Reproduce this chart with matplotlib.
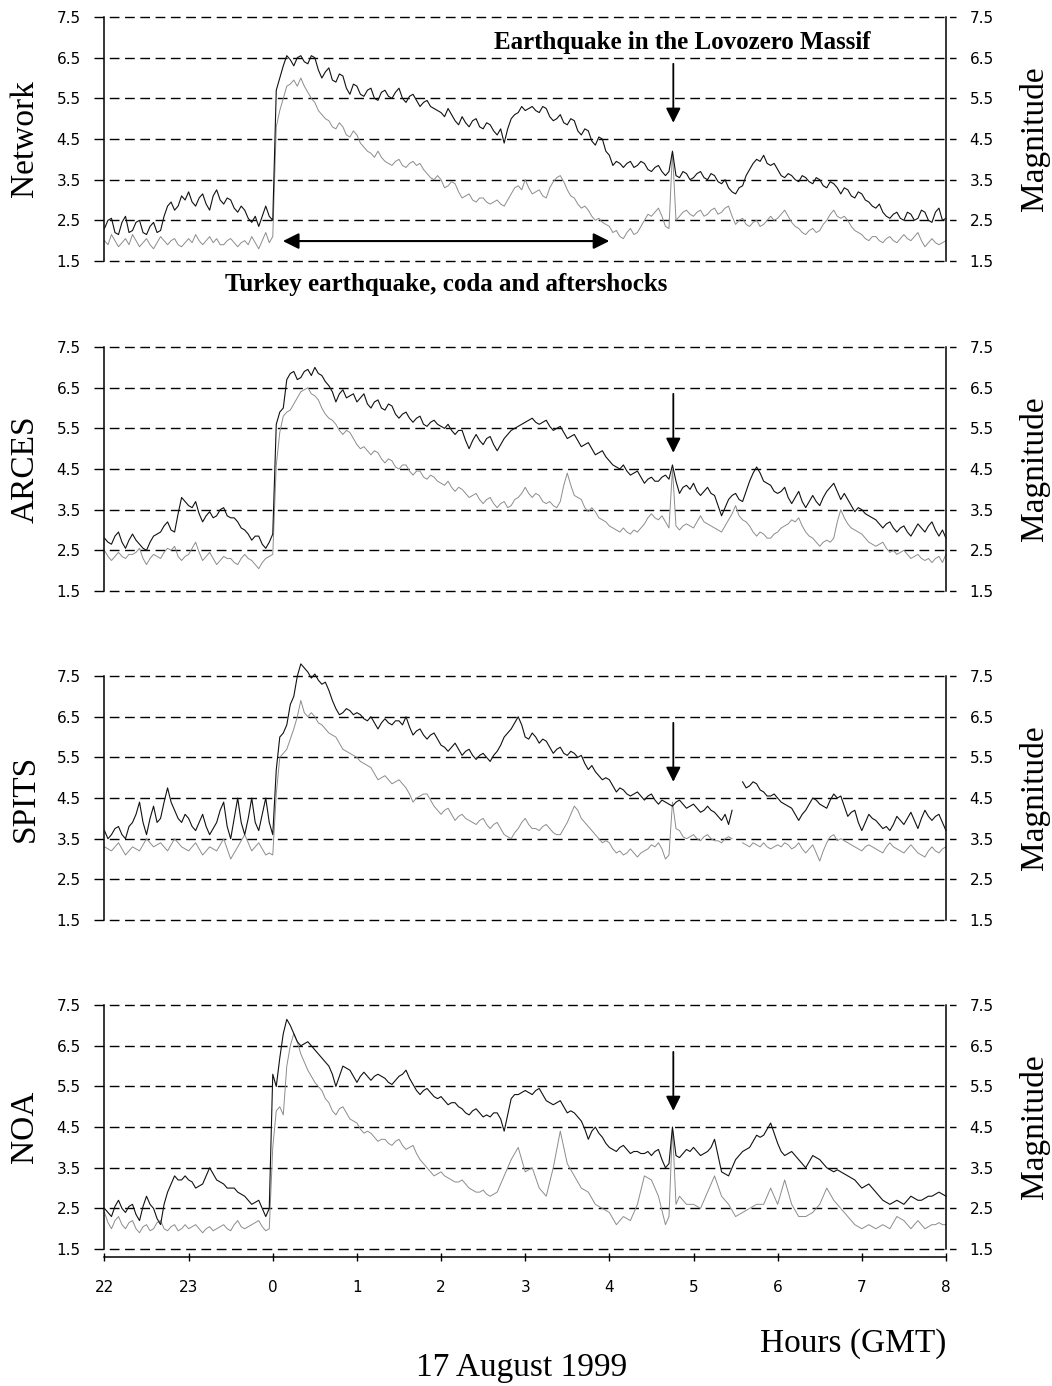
import numpy as np
import matplotlib
matplotlib.use("Agg")
import matplotlib.pyplot as plt

# 2.5-minute samples from 22:00 (16 Aug) to 08:00 (17 Aug), hours relative to midnight
TIME_H = np.arange(241) / 24.0 - 2.0

HOUR_TICKS = [-2, -1, 0, 1, 2, 3, 4, 5, 6, 7, 8]
HOUR_LABELS = ["22", "23", "0", "1", "2", "3", "4", "5", "6", "7", "8"]
MAG_TICKS = [1.5, 2.5, 3.5, 4.5, 5.5, 6.5, 7.5]

STATIONS = ["Network", "ARCES", "SPITS", "NOA"]
nan = np.nan

# upper (black) and lower (grey) magnitude traces, one row per hour
NET_UP = [
    2.3, 2.5, 2.55, 2.2, 2.15, 2.45, 2.6, 2.2, 2.25, 2.45, 2.5, 2.2, 2.15, 2.35, 2.45, 2.2, 2.25, 2.6, 2.85, 2.95, 2.75, 2.85, 3.1, 3.0,
    3.2, 2.95, 2.85, 3.05, 3.15, 2.9, 2.75, 3.1, 3.25, 3.0, 2.9, 3.05, 3.0, 2.8, 2.7, 2.85, 2.75, 2.55, 2.45, 2.6, 2.35, 2.6, 2.85, 2.6,
    2.5, 5.7, 6.0, 6.3, 6.55, 6.45, 6.3, 6.5, 6.55, 6.4, 6.35, 6.55, 6.5, 6.2, 6.0, 6.15, 6.25, 5.95, 5.9, 6.1, 6.05, 5.75, 5.6, 5.85,
    5.8, 5.6, 5.55, 5.7, 5.75, 5.5, 5.45, 5.65, 5.7, 5.55, 5.5, 5.65, 5.75, 5.5, 5.4, 5.55, 5.6, 5.45, 5.3, 5.4, 5.45, 5.3, 5.25, 5.2,
    5.15, 5.05, 5.25, 5.1, 4.95, 4.85, 5.05, 4.9, 4.8, 4.95, 5.0, 4.8, 4.75, 4.9, 4.85, 4.7, 4.6, 4.75, 4.4, 4.75, 5.0, 5.1, 5.15, 5.3,
    5.2, 5.25, 5.3, 5.2, 5.15, 5.3, 5.25, 5.05, 4.95, 5.0, 5.1, 4.9, 4.85, 5.0, 4.95, 4.7, 4.6, 4.75, 4.7, 4.45, 4.35, 4.55, 4.5, 4.2,
    4.1, 3.85, 3.95, 3.9, 3.8, 3.9, 3.95, 3.8, 3.85, 3.95, 3.9, 3.75, 3.7, 3.8, 3.85, 3.7, 3.6, 3.7, 4.2, 3.6, 3.55, 3.7, 3.65, 3.5,
    3.55, 3.65, 3.7, 3.55, 3.5, 3.65, 3.6, 3.45, 3.4, 3.5, 3.3, 3.2, 3.15, 3.3, 3.35, 3.6, 3.75, 3.9, 4.0, 3.95, 4.1, 3.9, 3.85, 3.9,
    3.75, 3.6, 3.55, 3.65, 3.6, 3.5, 3.45, 3.6, 3.55, 3.45, 3.4, 3.55, 3.5, 3.35, 3.3, 3.45, 3.4, 3.3, 3.15, 3.3, 3.25, 3.1, 3.05, 3.2,
    3.15, 3.0, 2.95, 2.85, 2.8, 2.9, 2.7, 2.6, 2.55, 2.65, 2.7, 2.55, 2.5, 2.7, 2.65, 2.5, 2.55, 2.75, 2.7, 2.5, 2.45, 2.7, 2.8, 2.5, 2.55,
]
NET_LO = [
    2.0, 1.9, 2.15, 2.0, 1.85, 1.95, 2.05, 1.9, 2.15, 2.0, 1.85, 1.95, 2.05, 1.9, 1.8, 1.95, 2.1, 2.0, 1.9, 2.0, 2.05, 1.9, 1.85, 1.95,
    2.05, 1.95, 2.15, 2.0, 1.9, 2.0, 2.1, 1.95, 2.05, 1.9, 1.9, 2.0, 2.05, 1.95, 1.85, 1.95, 2.0, 1.9, 2.1, 1.95, 1.8, 2.0, 2.2, 1.95,
    2.1, 4.8, 5.2, 5.5, 5.8, 5.85, 5.95, 5.8, 6.0, 5.8, 5.65, 5.5, 5.4, 5.2, 5.1, 5.0, 4.95, 4.8, 4.75, 4.9, 4.8, 4.6, 4.55, 4.7,
    4.6, 4.4, 4.3, 4.2, 4.15, 4.05, 4.2, 4.05, 3.95, 3.9, 3.85, 3.95, 4.0, 3.85, 3.8, 3.9, 3.95, 3.85, 3.9, 3.75, 3.65, 3.55, 3.5, 3.6,
    3.5, 3.3, 3.35, 3.45, 3.4, 3.2, 3.05, 3.1, 3.15, 3.0, 2.95, 3.05, 3.05, 2.95, 2.9, 2.95, 3.0, 2.9, 2.85, 3.0, 3.15, 3.3, 3.35, 3.25,
    3.5, 3.3, 3.15, 3.2, 3.25, 3.1, 3.05, 3.3, 3.45, 3.55, 3.6, 3.45, 3.25, 3.1, 3.05, 2.9, 2.8, 2.85, 2.75, 2.6, 2.5, 2.55, 2.45, 2.4,
    2.35, 2.2, 2.25, 2.1, 2.05, 2.2, 2.3, 2.15, 2.2, 2.35, 2.5, 2.65, 2.6, 2.7, 2.8, 2.6, 2.35, 2.3, 4.2, 2.5, 2.6, 2.7, 2.75, 2.65,
    2.6, 2.7, 2.75, 2.6, 2.65, 2.75, 2.8, 2.65, 2.7, 2.8, 2.85, 2.6, 2.4, 2.5, 2.55, 2.4, 2.35, 2.45, 2.5, 2.35, 2.4, 2.5, 2.6, 2.5,
    2.55, 2.65, 2.75, 2.6, 2.45, 2.35, 2.3, 2.2, 2.15, 2.25, 2.3, 2.2, 2.25, 2.4, 2.5, 2.65, 2.75, 2.6, 2.55, 2.6, 2.5, 2.35, 2.25, 2.2,
    2.15, 2.05, 2.0, 2.1, 2.1, 2.0, 1.95, 2.05, 2.1, 2.0, 1.95, 2.05, 2.15, 2.05, 2.0, 2.1, 2.2, 2.0, 1.85, 1.95, 2.05, 1.95, 1.9, 1.95, 2.0,
]
ARC_UP = [
    2.8, 2.7, 2.65, 2.85, 2.95, 2.7, 2.55, 2.75, 2.9, 2.75, 2.65, 2.55, 2.5, 2.7, 2.85, 2.9, 2.95, 3.1, 3.2, 3.0, 2.95, 3.4, 3.8, 3.7,
    3.6, 3.55, 3.7, 3.4, 3.2, 3.35, 3.45, 3.3, 3.35, 3.5, 3.55, 3.35, 3.3, 3.3, 3.2, 3.05, 3.0, 2.9, 2.75, 2.85, 2.85, 2.65, 2.55, 2.7,
    2.9, 5.6, 5.9, 6.0, 6.7, 6.85, 6.9, 6.7, 6.75, 6.9, 6.95, 6.8, 7.0, 6.85, 6.8, 6.65, 6.55, 6.4, 6.15, 6.35, 6.45, 6.25, 6.3, 6.35,
    6.15, 6.25, 6.35, 6.1, 6.0, 6.15, 6.2, 6.0, 5.95, 6.1, 6.05, 5.85, 5.75, 5.85, 5.9, 5.75, 5.65, 5.75, 5.8, 5.6, 5.55, 5.65, 5.7, 5.6,
    5.55, 5.5, 5.6, 5.45, 5.35, 5.45, 5.45, 5.2, 5.0, 5.2, 5.35, 5.2, 5.1, 5.25, 5.3, 5.1, 4.95, 5.1, 5.25, 5.35, 5.45, 5.5, 5.55, 5.6,
    5.65, 5.7, 5.75, 5.65, 5.6, 5.65, 5.7, 5.55, 5.45, 5.5, 5.55, 5.4, 5.25, 5.3, 5.35, 5.2, 5.05, 5.1, 5.15, 5.0, 4.85, 4.9, 4.95, 4.8,
    4.7, 4.6, 4.55, 4.5, 4.6, 4.45, 4.35, 4.4, 4.45, 4.3, 4.15, 4.25, 4.3, 4.2, 4.2, 4.3, 4.35, 4.25, 4.6, 4.2, 3.9, 4.05, 4.1, 4.0,
    4.15, 3.95, 3.85, 3.95, 4.05, 3.9, 3.85, 3.6, 3.35, 3.55, 3.75, 3.85, 3.9, 3.75, 3.7, 3.95, 4.2, 4.4, 4.55, 4.4, 4.2, 4.15, 4.1, 3.95,
    3.9, 3.95, 4.05, 3.8, 3.65, 3.8, 3.95, 3.7, 3.55, 3.7, 3.85, 3.7, 3.6, 3.8, 3.95, 4.05, 4.15, 3.95, 3.75, 3.9, 3.75, 3.6, 3.45, 3.55,
    3.5, 3.4, 3.35, 3.3, 3.25, 3.15, 3.05, 3.15, 3.2, 3.05, 2.95, 3.05, 3.1, 2.95, 2.85, 3.0, 3.15, 3.05, 2.95, 3.1, 3.2, 3.0, 2.85, 3.0, 2.8,
]
ARC_LO = [
    2.5, 2.35, 2.25, 2.35, 2.45, 2.35, 2.3, 2.4, 2.4, 2.45, 2.55, 2.3, 2.15, 2.3, 2.4, 2.35, 2.3, 2.45, 2.55, 2.5, 2.6, 2.35, 2.25, 2.35,
    2.4, 2.55, 2.7, 2.45, 2.25, 2.35, 2.45, 2.3, 2.15, 2.25, 2.35, 2.3, 2.3, 2.2, 2.15, 2.3, 2.4, 2.3, 2.25, 2.15, 2.05, 2.2, 2.3, 2.35,
    2.4, 4.6, 5.4, 5.8, 5.9, 5.95, 6.1, 6.25, 6.4, 6.45, 6.5, 6.35, 6.3, 6.2, 6.0, 5.85, 5.75, 5.7, 5.6, 5.45, 5.35, 5.45, 5.4, 5.25,
    5.1, 5.0, 5.05, 4.95, 4.85, 4.95, 4.9, 4.75, 4.65, 4.75, 4.7, 4.55, 4.5, 4.6, 4.6, 4.45, 4.35, 4.45, 4.45, 4.3, 4.25, 4.35, 4.3, 4.2,
    4.15, 4.1, 4.2, 4.05, 3.95, 4.05, 4.0, 3.9, 3.8, 3.85, 3.9, 3.75, 3.65, 3.75, 3.8, 3.65, 3.55, 3.65, 3.7, 3.55, 3.6, 3.75, 3.8, 3.9,
    4.05, 3.9, 3.8, 3.9, 3.85, 3.7, 3.65, 3.7, 3.6, 3.55, 3.7, 4.1, 4.4, 4.1, 3.85, 3.8, 3.75, 3.55, 3.45, 3.55, 3.45, 3.3, 3.25, 3.2,
    3.1, 3.05, 3.0, 2.95, 3.05, 2.95, 2.9, 3.0, 2.95, 3.05, 3.15, 3.3, 3.4, 3.3, 3.25, 3.35, 3.2, 3.05, 4.5, 3.1, 3.0, 3.1, 3.15, 3.1,
    3.05, 3.2, 3.35, 3.2, 3.15, 3.1, 3.05, 3.0, 2.95, 3.1, 3.25, 3.4, 3.6, 3.35, 3.25, 3.2, 3.1, 2.95, 2.85, 2.95, 2.9, 2.8, 2.8, 2.9,
    2.95, 3.05, 3.1, 3.15, 3.25, 3.2, 3.3, 3.1, 2.95, 2.85, 2.8, 2.7, 2.6, 2.7, 2.75, 2.7, 2.8, 3.2, 3.5, 3.3, 3.15, 3.05, 3.0, 2.95,
    2.9, 2.8, 2.7, 2.65, 2.6, 2.65, 2.7, 2.55, 2.45, 2.5, 2.4, 2.45, 2.5, 2.4, 2.3, 2.35, 2.4, 2.3, 2.25, 2.3, 2.2, 2.3, 2.35, 2.2, 2.4,
]
SPI_UP = [
    3.7, 3.5, 3.6, 3.75, 3.8, 3.6, 3.5, 3.8, 3.9, 4.1, 4.4, 3.9, 3.6, 4.0, 4.3, 3.9, 4.0, 4.4, 4.75, 4.4, 4.2, 4.0, 3.9, 4.1,
    4.0, 3.8, 3.7, 3.9, 4.1, 3.8, 3.6, 3.75, 3.9, 4.2, 4.4, 3.8, 3.5, 4.0, 4.5, 3.9, 3.6, 4.0, 4.5, 3.9, 3.7, 4.1, 4.5, 3.9,
    3.6, 5.2, 6.0, 6.1, 6.3, 6.8, 7.0, 7.5, 7.8, 7.7, 7.6, 7.45, 7.55, 7.4, 7.3, 7.35, 7.15, 6.9, 6.7, 6.55, 6.6, 6.7, 6.65, 6.55,
    6.6, 6.55, 6.45, 6.4, 6.5, 6.35, 6.2, 6.35, 6.45, 6.35, 6.3, 6.4, 6.4, 6.3, 6.5, 6.25, 6.05, 6.15, 6.2, 6.05, 5.95, 6.05, 6.1, 5.95,
    5.8, 5.75, 5.65, 5.75, 5.85, 5.7, 5.55, 5.65, 5.7, 5.55, 5.45, 5.55, 5.6, 5.5, 5.4, 5.55, 5.65, 5.8, 6.0, 6.1, 6.2, 6.35, 6.5, 6.3,
    6.0, 5.95, 6.1, 6.0, 5.85, 5.95, 5.9, 5.75, 5.6, 5.7, 5.75, 5.6, 5.55, 5.65, 5.6, 5.5, 5.55, 5.35, 5.2, 5.3, 5.15, 5.05, 4.95, 5.0,
    4.95, 4.8, 4.65, 4.75, 4.7, 4.6, 4.55, 4.6, 4.65, 4.55, 4.45, 4.55, 4.6, 4.45, 4.35, 4.45, 4.4, 4.35, 4.3, 4.4, 4.45, 4.35, 4.25, 4.3,
    4.35, 4.25, 4.15, 4.2, 4.3, 4.2, 4.15, 4.05, 3.95, 4.1, 3.85, 4.2, nan, nan, 4.9, 4.75, 4.8, 4.9, 4.85, 4.7, 4.65, 4.55, 4.55, 4.6,
    4.5, 4.4, 4.35, 4.3, 4.25, 4.1, 3.95, 4.1, 4.2, 4.35, 4.5, 4.45, 4.35, 4.3, 4.25, 4.45, 4.6, 4.5, 4.55, 4.3, 4.05, 4.15, 4.2, 3.9,
    3.7, 3.9, 4.1, 4.0, 3.95, 3.85, 3.75, 3.8, 3.7, 3.85, 4.05, 3.95, 3.85, 4.0, 4.15, 3.95, 3.75, 4.0, 4.2, 4.05, 3.95, 4.05, 4.1, 3.9, 3.7,
]
SPI_LO = [
    3.3, 3.25, 3.2, 3.3, 3.4, 3.25, 3.1, 3.2, 3.3, 3.25, 3.2, 3.35, 3.5, 3.4, 3.3, 3.35, 3.4, 3.3, 3.2, 3.35, 3.5, 3.4, 3.3, 3.25,
    3.2, 3.3, 3.4, 3.25, 3.1, 3.2, 3.3, 3.25, 3.2, 3.35, 3.5, 3.25, 3.0, 3.15, 3.3, 3.45, 3.6, 3.4, 3.2, 3.3, 3.4, 3.25, 3.1, 3.15,
    3.1, 4.6, 5.5, 5.6, 5.7, 5.95, 6.2, 6.5, 6.9, 6.6, 6.5, 6.6, 6.5, 6.35, 6.3, 6.2, 6.1, 6.05, 6.0, 5.85, 5.7, 5.65, 5.6, 5.55,
    5.5, 5.4, 5.35, 5.3, 5.25, 5.1, 4.95, 5.0, 5.05, 4.95, 4.85, 4.9, 4.95, 4.85, 4.75, 4.6, 4.4, 4.5, 4.55, 4.6, 4.6, 4.45, 4.3, 4.2,
    4.1, 4.2, 4.25, 4.1, 3.95, 4.05, 4.1, 4.0, 3.95, 3.9, 3.85, 3.95, 4.0, 3.85, 3.75, 3.85, 3.9, 3.75, 3.6, 3.55, 3.5, 3.65, 3.75, 3.9,
    4.0, 3.85, 3.75, 3.75, 3.7, 3.8, 3.85, 3.75, 3.65, 3.6, 3.6, 3.75, 3.9, 4.1, 4.3, 4.2, 4.0, 3.9, 3.8, 3.7, 3.6, 3.5, 3.4, 3.45,
    3.4, 3.25, 3.15, 3.2, 3.1, 3.15, 3.25, 3.15, 3.05, 3.15, 3.2, 3.25, 3.35, 3.3, 3.4, 3.25, 3.0, 3.1, 4.4, 3.75, 3.7, 3.55, 3.5, 3.55,
    3.6, 3.5, 3.45, 3.55, 3.6, 3.5, 3.45, 3.45, 3.4, 3.5, 3.55, 3.5, nan, nan, 3.4, 3.35, 3.3, 3.4, 3.35, 3.3, 3.4, 3.3, 3.25, 3.3,
    3.35, 3.3, 3.4, 3.35, 3.25, 3.3, 3.4, 3.25, 3.15, 3.25, 3.35, 3.15, 2.95, 3.2, 3.4, 3.55, 3.6, 3.45, 3.5, 3.45, 3.4, 3.35, 3.3, 3.25,
    3.2, 3.3, 3.35, 3.3, 3.25, 3.2, 3.15, 3.3, 3.4, 3.3, 3.25, 3.2, 3.15, 3.25, 3.35, 3.25, 3.15, 3.1, 3.05, 3.2, 3.3, 3.2, 3.15, 3.25, 3.3,
]
NOA_UP = [
    2.5, 2.4, 2.3, 2.55, 2.7, 2.5, 2.4, 2.55, 2.6, 2.35, 2.2, 2.55, 2.8, 2.6, 2.5, 2.25, 2.1, 2.6, 2.9, 3.1, 3.3, 3.2, 3.2, 3.3,
    3.2, 3.15, 3.0, 3.05, 3.1, 3.3, 3.5, 3.35, 3.2, 3.15, 3.1, 3.0, 3.0, 3.0, 2.9, 2.85, 2.8, 2.7, 2.6, 2.65, 2.7, 2.5, 2.3, 2.5,
    5.8, 5.5, 6.2, 6.8, 7.15, 7.0, 6.8, 6.6, 6.5, 6.55, 6.6, 6.5, 6.4, 6.3, 6.2, 6.1, 6.0, 5.8, 5.5, 5.75, 6.0, 5.95, 5.9, 5.75,
    5.6, 5.75, 5.85, 5.75, 5.65, 5.75, 5.8, 5.75, 5.7, 5.6, 5.55, 5.65, 5.75, 5.8, 5.9, 5.7, 5.55, 5.4, 5.3, 5.4, 5.45, 5.35, 5.25, 5.2,
    5.25, 5.15, 5.05, 5.1, 5.1, 5.0, 4.95, 4.85, 4.8, 4.9, 4.95, 4.85, 4.75, 4.8, 4.75, 4.85, 4.85, 4.7, 4.4, 4.8, 5.2, 5.3, 5.3, 5.35,
    5.4, 5.35, 5.3, 5.4, 5.45, 5.3, 5.15, 5.1, 5.05, 5.1, 5.15, 5.0, 4.85, 4.9, 4.85, 4.75, 4.65, 4.45, 4.2, 4.4, 4.5, 4.35, 4.25, 4.1,
    4.0, 3.95, 3.9, 4.0, 4.05, 3.95, 3.85, 3.9, 3.9, 3.85, 3.85, 3.9, 3.8, 3.9, 3.95, 3.7, 3.5, 3.6, 4.5, 3.8, 3.75, 3.85, 3.95, 3.9,
    4.0, 3.9, 3.8, 3.85, 3.9, 4.0, 4.2, 3.8, 3.4, 3.35, 3.3, 3.5, 3.7, 3.8, 3.9, 3.95, 4.0, 4.15, 4.3, 4.25, 4.3, 4.45, 4.6, 4.35,
    4.1, 3.9, 3.8, 3.85, 3.9, 3.8, 3.7, 3.6, 3.5, 3.65, 3.8, 3.75, 3.7, 3.6, 3.5, 3.45, 3.4, 3.45, 3.4, 3.35, 3.3, 3.25, 3.2, 3.1,
    3.0, 3.05, 3.1, 3.0, 2.9, 2.8, 2.7, 2.65, 2.6, 2.65, 2.7, 2.65, 2.6, 2.7, 2.8, 2.75, 2.7, 2.7, 2.75, 2.8, 2.8, 2.85, 2.9, 2.85, 2.8,
]
NOA_LO = [
    2.4, 2.15, 2.0, 2.2, 2.3, 2.1, 2.0, 2.15, 2.2, 2.0, 1.9, 2.05, 2.1, 1.95, 2.0, 2.15, 2.2, 2.0, 1.95, 2.05, 2.1, 1.95, 2.0, 2.1,
    2.0, 2.05, 2.1, 2.0, 1.9, 2.0, 2.05, 1.95, 2.0, 2.05, 2.1, 2.0, 1.95, 2.1, 2.2, 2.05, 2.0, 2.05, 2.1, 2.15, 2.2, 2.05, 1.95, 2.0,
    4.0, 4.9, 5.0, 4.8, 6.0, 6.5, 6.8, 6.6, 6.3, 6.1, 5.9, 5.75, 5.6, 5.5, 5.4, 5.2, 5.1, 4.9, 4.8, 4.95, 5.0, 4.85, 4.7, 4.65,
    4.6, 4.45, 4.35, 4.4, 4.35, 4.25, 4.15, 4.2, 4.2, 4.1, 4.05, 4.15, 4.2, 4.05, 3.95, 4.0, 4.05, 3.85, 3.7, 3.6, 3.5, 3.4, 3.3, 3.35,
    3.4, 3.3, 3.25, 3.2, 3.15, 3.15, 3.2, 3.1, 3.0, 2.95, 2.9, 2.9, 2.95, 2.85, 2.8, 2.85, 2.9, 3.1, 3.3, 3.5, 3.7, 3.85, 4.0, 3.7,
    3.4, 3.45, 3.5, 3.25, 3.0, 2.9, 2.8, 3.15, 3.5, 3.95, 4.4, 4.0, 3.6, 3.45, 3.3, 3.15, 3.0, 2.95, 2.9, 2.75, 2.6, 2.55, 2.5, 2.45,
    2.4, 2.25, 2.1, 2.2, 2.3, 2.25, 2.2, 2.4, 2.6, 2.95, 3.3, 3.25, 3.2, 3.0, 2.8, 2.45, 2.1, 2.3, 4.5, 2.6, 2.8, 2.7, 2.6, 2.6,
    2.6, 2.55, 2.5, 2.7, 2.9, 3.1, 3.3, 3.05, 2.8, 2.7, 2.6, 2.45, 2.3, 2.35, 2.4, 2.45, 2.5, 2.55, 2.6, 2.6, 2.6, 2.8, 3.0, 2.8,
    2.6, 2.9, 3.2, 2.9, 2.6, 2.45, 2.3, 2.3, 2.3, 2.35, 2.4, 2.5, 2.6, 2.8, 3.0, 2.85, 2.7, 2.6, 2.5, 2.4, 2.3, 2.2, 2.1, 2.05,
    2.0, 2.05, 2.1, 2.05, 2.0, 2.05, 2.1, 2.05, 2.0, 2.15, 2.3, 2.25, 2.2, 2.1, 2.0, 2.1, 2.2, 2.1, 2.0, 2.05, 2.1, 2.1, 2.15, 2.1, 2.1,
]

UPPER = [NET_UP, ARC_UP, SPI_UP, NOA_UP]
LOWER = [NET_LO, ARC_LO, SPI_LO, NOA_LO]

LOVOZERO_T = 4.76   # local event marked by the arrows
TURKEY_SPAN = (0.12, 4.0)

SERIF = "Liberation Serif"
SANS = "DejaVu Sans"

fig = plt.figure(figsize=(10.52, 13.86), dpi=100)

# panel bottoms (figure fraction), all same size
bottoms = [0.8117, 0.5736, 0.3362, 0.0988]
left, width, height = 0.0993, 0.7999, 0.1760

for i, name in enumerate(STATIONS):
    ax = fig.add_axes([left, bottoms[i], width, height])
    ax.set_xlim(-2, 8)
    ax.set_ylim(1.5, 7.5)

    # dashed grid running slightly past both spines
    ax.hlines(MAG_TICKS, -0.012, 1.012, transform=ax.get_yaxis_transform(),
              colors="black", linestyles=(0, (7, 4)), linewidth=1.0,
              clip_on=False, zorder=1)

    ax.plot(TIME_H, LOWER[i], color="#8c8c8c", linewidth=0.7,
            clip_on=False, zorder=2)
    ax.plot(TIME_H, UPPER[i], color="#111111", linewidth=0.8,
            clip_on=False, zorder=3)

    for side in ["top", "bottom"]:
        ax.spines[side].set_visible(False)
    for side in ["left", "right"]:
        ax.spines[side].set_linewidth(1.1)

    ax.set_yticks(MAG_TICKS)
    ax.set_yticklabels(["%.1f" % v for v in MAG_TICKS], fontsize=11, family=SANS)
    ax.tick_params(axis="y", length=0, pad=17, labelleft=True, labelright=True)

    if i == len(STATIONS) - 1:
        ax.spines["bottom"].set_visible(True)
        ax.spines["bottom"].set_position(("outward", 6))
        ax.spines["bottom"].set_linewidth(1.1)
        ax.set_xticks(HOUR_TICKS)
        ax.set_xticklabels(HOUR_LABELS, fontsize=11, family=SANS)
        ax.tick_params(axis="x", direction="inout", length=6, width=1, pad=13)
    else:
        ax.set_xticks([])

    # arrow marking the Lovozero Massif event
    ax.annotate("", xy=(LOVOZERO_T, 4.9), xytext=(LOVOZERO_T, 6.35),
                arrowprops=dict(arrowstyle="-|>", color="black", lw=1.3,
                                mutation_scale=22, shrinkA=0, shrinkB=0))

    fig.text(0.024, bottoms[i] + height / 2, name, rotation=90, family=SERIF,
             fontsize=24, ha="center", va="center")
    fig.text(0.983, bottoms[i] + height / 2, "Magnitude", rotation=90, family=SERIF,
             fontsize=24, ha="center", va="center")

    if i == 0:
        ax.text(4.87, 6.71, "Earthquake in the Lovozero Massif", family=SERIF,
                fontweight="bold", fontsize=18, ha="center", va="baseline")
        ax.annotate("", xy=(TURKEY_SPAN[0], 1.99), xytext=(TURKEY_SPAN[1], 1.99),
                    arrowprops=dict(arrowstyle="<|-|>", color="black", lw=1.5,
                                    mutation_scale=24, shrinkA=0, shrinkB=0))
        ax.text(2.055, 0.76, "Turkey earthquake, coda and aftershocks", family=SERIF,
                fontweight="bold", fontsize=18, ha="center", va="baseline",
                clip_on=False)

fig.text(0.900, 0.0245, "Hours (GMT)", family=SERIF, fontsize=24,
         ha="right", va="baseline")
fig.text(0.496, 0.0072, "17 August 1999", family=SERIF, fontsize=24,
         ha="center", va="baseline")

fig.savefig("out.png", dpi=100)
